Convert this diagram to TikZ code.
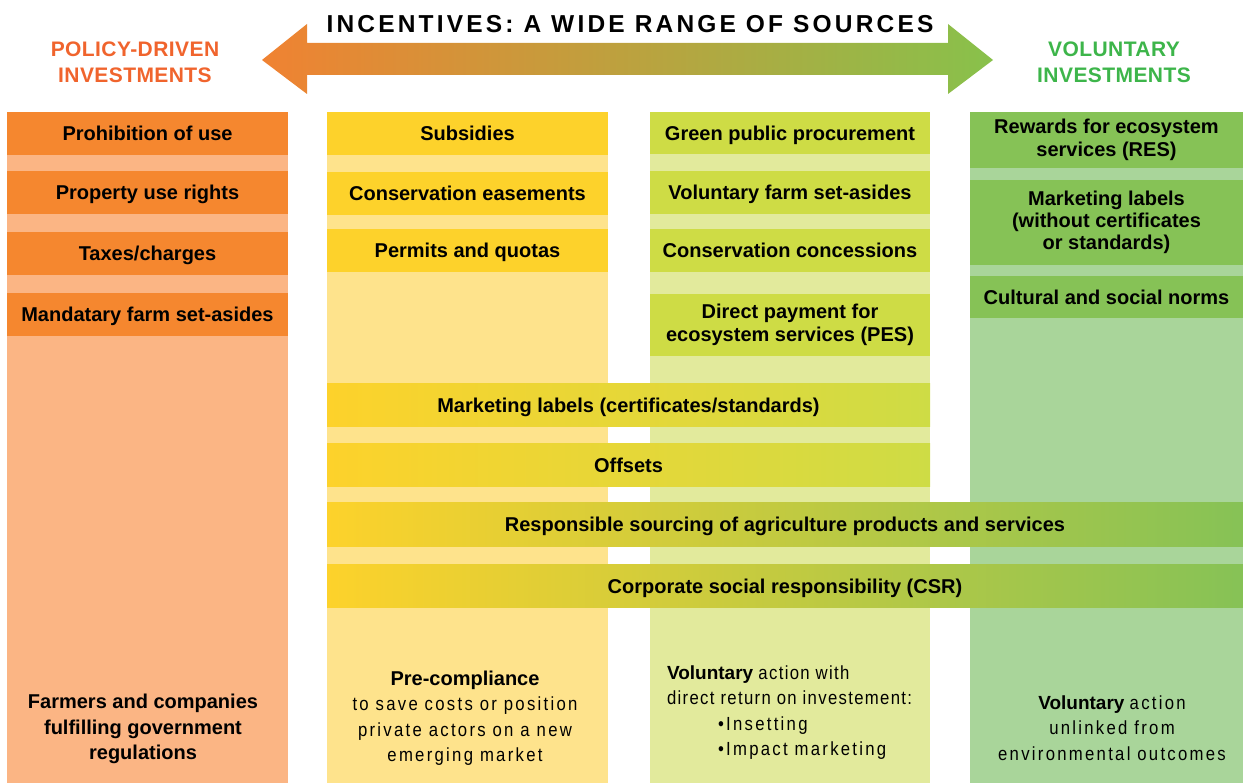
\documentclass[tikz,border=0pt]{standalone}
\usepackage{fontspec}
\setmainfont{Liberation Sans}
\newfontfamily\titlefont{Liberation Sans}[LetterSpace=13]
\newfontfamily\headfont{Liberation Sans}[LetterSpace=2]
\newfontfamily\regfont{Liberation Sans}[FakeStretch=0.88,LetterSpace=12]
\newfontfamily\regfontb{Liberation Sans}[FakeStretch=0.88,LetterSpace=7]
\definecolor{oD}{HTML}{F5872F}
\definecolor{oL}{HTML}{FBB584}
\definecolor{yD}{HTML}{FDD22B}
\definecolor{yL}{HTML}{FEE38C}
\definecolor{lD}{HTML}{CEDC45}
\definecolor{lL}{HTML}{E2EA9C}
\definecolor{gD}{HTML}{86C256}
\definecolor{gL}{HTML}{A9D59A}
\definecolor{hOr}{HTML}{F0642D}
\definecolor{hGr}{HTML}{3DB54A}
\definecolor{arO}{HTML}{F08232}
\definecolor{arM}{HTML}{C8A53D}
\definecolor{arG}{HTML}{88C14B}
\tikzset{
  bg/.style={anchor=north west, inner sep=0pt, outer sep=0pt, minimum height=671pt},
  box/.style={anchor=north west, inner sep=0pt, outer sep=0pt, align=center,
    font=\bfseries\fontsize{20}{23}\selectfont, text=black},
  onebox/.style={box, text height=19pt, text depth=4pt},
  foot/.style={inner sep=0pt, outer sep=0pt, text=black, font=\fontsize{19}{25.5}\selectfont},
  head/.style={inner sep=0pt, align=center, font=\headfont\bfseries\fontsize{21}{26}\selectfont}
}
\begin{document}
\begin{tikzpicture}[x=1pt,y=-1pt]
\useasboundingbox (0,0) rectangle (1243,783);
% arrow
\shade[left color=arO, middle color=arM, right color=arG]
  (262,60) -- (307,24) -- (307,43) -- (948,43) -- (948,24) -- (993,60)
  -- (948,94) -- (948,75) -- (307,75) -- (307,94) -- cycle;
\node[inner sep=0pt, font=\titlefont\bfseries\fontsize{24.5}{26}\selectfont] (title) at (630,24) {INCENTIVES: A WIDE RANGE OF SOURCES};
\node[head, text=hOr] (hpol) at (135,62) {POLICY-DRIVEN\\INVESTMENTS};
\node[head, text=hGr] (hvol) at (1114,62) {VOLUNTARY\\INVESTMENTS};
% column backgrounds
\node[bg, fill=oL, minimum width=281pt] (c1) at (7,112) {};
\node[bg, fill=yL, minimum width=281pt] (c2) at (327,112) {};
\node[bg, fill=lL, minimum width=280pt] (c3) at (650,112) {};
\node[bg, fill=gL, minimum width=273pt] (c4) at (970,112) {};
% column 1
\node[onebox, fill=oD, minimum width=281pt, minimum height=43pt] (a1) at (7,112) {Prohibition of use};
\node[onebox, fill=oD, minimum width=281pt, minimum height=43pt] (a2) at (7,171) {Property use rights};
\node[onebox, fill=oD, minimum width=281pt, minimum height=43pt] (a3) at (7,232) {Taxes/charges};
\node[onebox, fill=oD, minimum width=281pt, minimum height=43pt] (a4) at (7,293) {Mandatary farm set-asides};
% column 2
\node[onebox, fill=yD, minimum width=281pt, minimum height=43pt] (b1) at (327,112) {Subsidies};
\node[onebox, fill=yD, minimum width=281pt, minimum height=43pt] (b2) at (327,172) {Conservation easements};
\node[onebox, fill=yD, minimum width=281pt, minimum height=43pt] (b3) at (327,229) {Permits and quotas};
% column 3
\node[onebox, fill=lD, minimum width=280pt, minimum height=42pt] (d1) at (650,112) {Green public procurement};
\node[onebox, fill=lD, minimum width=280pt, minimum height=43pt] (d2) at (650,171) {Voluntary farm set-asides};
\node[onebox, fill=lD, minimum width=280pt, minimum height=43pt] (d3) at (650,229) {Conservation concessions};
\node[box, fill=lD, minimum width=280pt, minimum height=62pt] (d4) at (650,294) {Direct payment for\\ecosystem services (PES)};
% column 4
\node[box, fill=gD, minimum width=273pt, minimum height=56pt] (e1) at (970,112) {Rewards for ecosystem\\services (RES)};
\node[box, fill=gD, minimum width=273pt, minimum height=85pt, font=\bfseries\fontsize{20}{22}\selectfont] (e2) at (970,180) {Marketing labels\\(without certificates\\or standards)};
\node[onebox, fill=gD, minimum width=273pt, minimum height=42pt] (e3) at (970,276) {Cultural and social norms};
% wide bars
\node[onebox, left color=yD, right color=lD, minimum width=603pt, minimum height=43pt] (w1) at (327,384) {Marketing labels (certificates/standards)};
\node[onebox, left color=yD, right color=lD, minimum width=603pt, minimum height=43pt] (w2) at (327,444) {Offsets};
\node[onebox, left color=yD, right color=gD, minimum width=916pt, minimum height=43pt] (w3) at (327,503) {Responsible sourcing of agriculture products and services};
\node[onebox, left color=yD, right color=gD, minimum width=916pt, minimum height=43pt] (w4) at (327,564) {Corporate social responsibility (CSR)};
% footers
\node[foot, align=center, font=\bfseries\fontsize{20}{25.5}\selectfont] (f1) at (143,729) {Farmers and companies\\fulfilling government\\regulations};
\node[foot, align=center] (f2) at (465,718) {{\bfseries\fontsize{20}{26}\selectfont Pre-compliance}\\{\regfont to save costs or position}\\{\regfont private actors on a new}\\{\regfont emerging market}};
\node[foot, align=left, anchor=west] (f3) at (667,712.5) {{\bfseries Voluntary} {\regfontb action with}\\{\regfontb direct return on investement:}\\\hspace*{51pt}{\regfont\textbullet Insetting}\\\hspace*{51pt}{\regfont\textbullet Impact marketing}};
\node[foot, align=center] (f4) at (1112,728) {{\bfseries Voluntary} {\regfont action}\\{\regfont unlinked from}\\{\regfont environmental outcomes}};
\end{tikzpicture}
\end{document}
